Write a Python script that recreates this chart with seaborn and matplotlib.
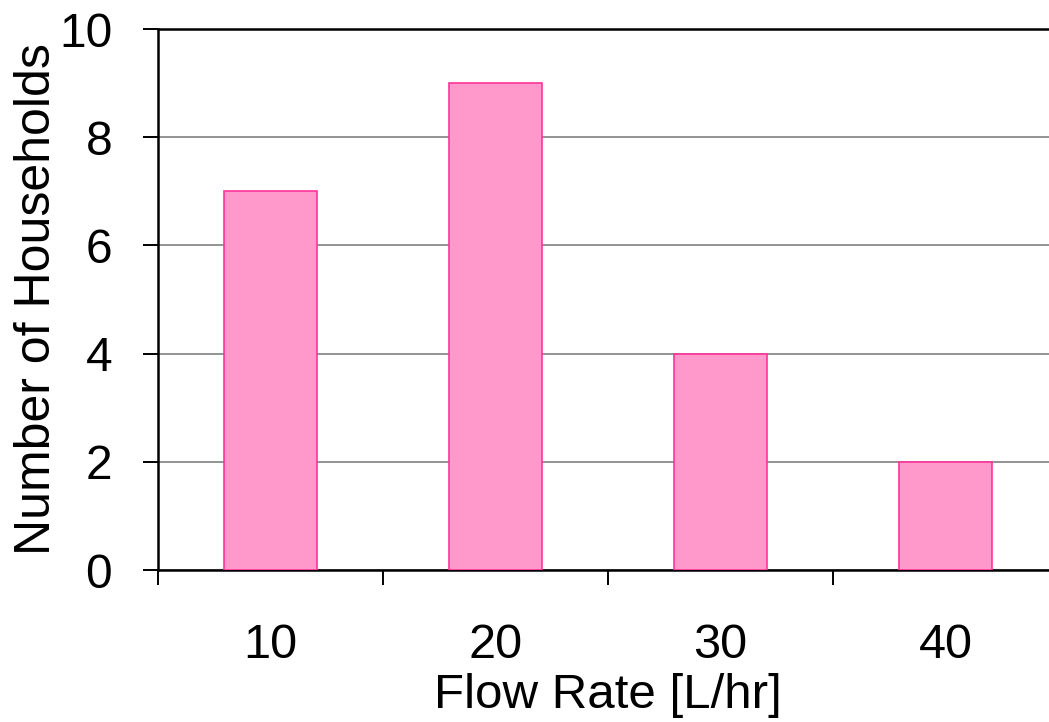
import matplotlib
matplotlib.use("Agg")
import matplotlib.pyplot as plt
import seaborn as sns
import pandas as pd

sns.set_style("white")
plt.rcParams['font.family'] = ['Liberation Sans', 'DejaVu Sans']
plt.rcParams['text.color'] = 'black'
plt.rcParams['axes.labelcolor'] = 'black'
plt.rcParams['xtick.color'] = 'black'
plt.rcParams['ytick.color'] = 'black'

# data
flow_rate = ['10', '20', '30', '40']
households = [7, 9, 4, 2]

df = pd.DataFrame({'flow': flow_rate, 'n': households})

fig = plt.figure(figsize=(10.49, 7.22), dpi=100)
ax = fig.add_axes([0.1506, 0.2105, 0.858, 0.7493])

sns.barplot(x='flow', y='n', data=df, ax=ax, width=0.41,
            color='#FF99CC', edgecolor='#FF3399', linewidth=1.2,
            saturation=1, zorder=3)

ax.set_ylim(0, 10)
ax.set_xlim(-0.5, 3.5)
ax.set_yticks([0, 2, 4, 6, 8, 10])
ax.yaxis.grid(True, color='#808080', linewidth=1.2, zorder=0)
ax.set_axisbelow(True)

for s in ['left', 'bottom', 'top']:
    ax.spines[s].set_color('black')
    ax.spines[s].set_linewidth(1.8)
ax.spines['right'].set_visible(False)

ax.set_xticks([-0.5, 0.5, 1.5, 2.5, 3.5], minor=True)
ax.tick_params(axis='x', which='minor', bottom=True, length=11, width=1.4,
               color='black', direction='out')
ax.tick_params(axis='x', which='major', bottom=True, length=0, pad=38,
               labelsize=35, labelcolor='black')
ax.tick_params(axis='y', which='major', length=11, width=1.4, color='black',
               direction='out', left=True, pad=22, labelsize=34.5, labelcolor='black')

ax.set_xlabel('Flow Rate [L/hr]', fontsize=35.5, color='black')
ax.set_ylabel('Number of Households', fontsize=36, color='black')
ax.xaxis.set_label_coords(0.5, -0.19)
ax.yaxis.set_label_coords(-0.109, 0.5)

fig.savefig('out.png', dpi=100)
